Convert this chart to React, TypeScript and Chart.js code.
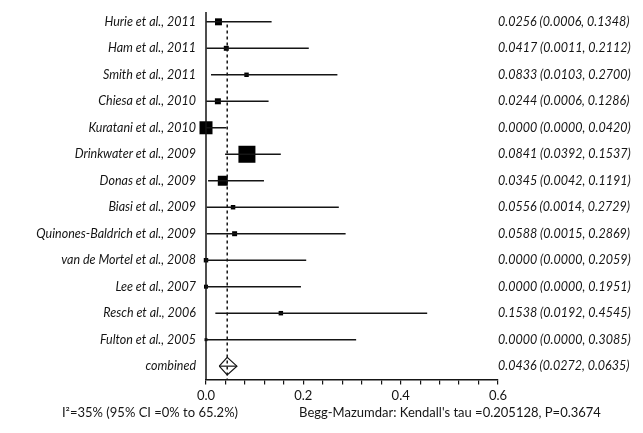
import React, { useEffect, useRef } from "react";
import { Chart, registerables } from "chart.js";

Chart.register(...registerables);

const studies = [
  "Hurie et al., 2011",
  "Ham et al., 2011",
  "Smith et al., 2011",
  "Chiesa et al., 2010",
  "Kuratani et al., 2010",
  "Drinkwater et al., 2009",
  "Donas et al., 2009",
  "Biasi et al., 2009",
  "Quinones-Baldrich et al., 2009",
  "van de Mortel et al., 2008",
  "Lee et al., 2007",
  "Resch et al., 2006",
  "Fulton et al., 2005",
];
const estimates = [0.0256, 0.0417, 0.0833, 0.0244, 0.0, 0.0841, 0.0345, 0.0556, 0.0588, 0.0, 0.0, 0.1538, 0.0];
const lowers = [0.0006, 0.0011, 0.0103, 0.0006, 0.0, 0.0392, 0.0042, 0.0014, 0.0015, 0.0, 0.0, 0.0192, 0.0];
const uppers = [0.1348, 0.2112, 0.27, 0.1286, 0.042, 0.1537, 0.1191, 0.2729, 0.2869, 0.2059, 0.1951, 0.4545, 0.3085];
const weights = [6.1, 3.1, 2.5, 4.5, 21.2, 36.2, 12.5, 2.5, 3.1, 2.5, 2.0, 2.5, 1.1];

const combinedLabel = "combined";
const combinedEst = 0.0436;
const combinedLower = 0.0272;
const combinedUpper = 0.0635;

const xTicks = [0, 0.2, 0.4, 0.6];
const heterogeneityText = "I\u00B2=35% (95% CI =0% to 65.2%)";
const biasText = "Begg-Mazumdar: Kendall's tau =0.205128, P=0.3674";

const fmt = (v: number) => v.toFixed(4);

export default function App() {
  const ref = useRef<HTMLCanvasElement | null>(null);

  useEffect(() => {
    document.body.style.margin = "0";
    const canvas = ref.current;
    if (!canvas) return;
    const n = studies.length;
    const combinedRow = n;
    const lineColor = "#151515";

    const datasets: any[] = [];
    studies.forEach((_, i) => {
      datasets.push({
        type: "line",
        data: [
          { x: lowers[i], y: i },
          { x: uppers[i], y: i },
        ],
        borderColor: lineColor,
        borderWidth: 1.5,
        pointRadius: 0,
        clip: false,
      });
    });
    datasets.push({
      type: "line",
      data: [
        { x: 0, y: -0.37 },
        { x: 0, y: n + 0.5 },
      ],
      borderColor: lineColor,
      borderWidth: 1.5,
      pointRadius: 0,
      clip: false,
    });
    datasets.push({
      type: "line",
      data: [
        { x: combinedEst, y: 0.1 },
        { x: combinedEst, y: n + 0.5 },
      ],
      borderColor: lineColor,
      borderWidth: 1.5,
      borderDash: [3, 3],
      pointRadius: 0,
      clip: false,
    });
    const k = 17 / Math.sqrt(Math.max(...weights));
    datasets.push({
      type: "scatter",
      data: studies.map((_, i) => ({ x: estimates[i], y: i })),
      pointStyle: "rect",
      pointRadius: weights.map((w) => (k * Math.sqrt(w)) / Math.SQRT2),
      backgroundColor: "#000",
      borderWidth: 0,
      pointHoverRadius: 0,
      clip: false,
    });
    const dh = 0.33;
    datasets.push({
      type: "line",
      data: [
        { x: combinedLower, y: combinedRow },
        { x: combinedEst, y: combinedRow - dh },
        { x: combinedUpper, y: combinedRow },
        { x: combinedEst, y: combinedRow + dh },
        { x: combinedLower, y: combinedRow },
      ],
      borderColor: lineColor,
      borderWidth: 1.2,
      pointRadius: 0,
      tension: 0,
      fill: false,
      clip: false,
    });
    datasets.push({
      type: "line",
      data: [
        { x: combinedLower, y: combinedRow },
        { x: combinedUpper, y: combinedRow },
      ],
      borderColor: lineColor,
      borderWidth: 1.2,
      pointRadius: 0,
      clip: false,
    });

    const textPlugin = {
      id: "forestText",
      afterDraw(chart: any) {
        const ctx = chart.ctx;
        const xs = chart.scales.x;
        const ys = chart.scales.y;
        ctx.save();
        ctx.fillStyle = "#151515";
        ctx.textBaseline = "middle";
        ctx.font = "italic 12.5px Lato";
        const leftX = xs.getPixelForValue(0) - 10;
        const rightX = xs.getPixelForValue(xTicks[xTicks.length - 1]) + 0;
        studies.forEach((s, i) => {
          const y = ys.getPixelForValue(i);
          ctx.textAlign = "right";
          ctx.fillText(s, leftX, y);
          ctx.textAlign = "left";
          ctx.fillText(`${fmt(estimates[i])} (${fmt(lowers[i])}, ${fmt(uppers[i])})`, rightX, y);
        });
        const yc = ys.getPixelForValue(combinedRow);
        ctx.textAlign = "right";
        ctx.fillText(combinedLabel, leftX, yc);
        ctx.textAlign = "left";
        ctx.fillText(`${fmt(combinedEst)} (${fmt(combinedLower)}, ${fmt(combinedUpper)})`, rightX, yc);

        ctx.font = "13px Lato";
        ctx.textAlign = "center";
        ctx.fillText(heterogeneityText, 150, 413);
        ctx.fillText(biasText, 450, 413);
        ctx.restore();
      },
    };

    const chart = new Chart(canvas, {
      type: "line",
      data: { datasets },
      options: {
        responsive: false,
        animation: false,
        events: [],
        layout: { padding: { left: 206, right: 145, top: 5, bottom: 25 } },
        plugins: { legend: { display: false }, tooltip: { enabled: false } },
        scales: {
          x: {
            type: "linear",
            min: 0,
            max: 0.6,
            position: "bottom",
            border: { display: true, color: "#151515", width: 1.5 },
            grid: { drawOnChartArea: false, drawTicks: true, tickLength: 5, color: "#151515", lineWidth: 1.2 },
            ticks: {
              stepSize: 0.04,
              autoSkip: false,
              maxRotation: 0,
              padding: 4,
              color: "#151515",
              font: { family: "Lato", size: 13 },
              callback: (v: any) => {
                const val = Number(v);
                const hit = xTicks.find((t) => Math.abs(t - val) < 1e-6);
                return hit !== undefined ? hit.toFixed(1) : "";
              },
            },
          },
          y: {
            type: "linear",
            min: -0.37,
            max: n + 0.5,
            reverse: true,
            display: false,
          },
        },
      },
      plugins: [textPlugin],
    });
    return () => chart.destroy();
  }, []);

  return <canvas ref={ref} width={643} height={433} style={{ display: "block" }} />;
}
